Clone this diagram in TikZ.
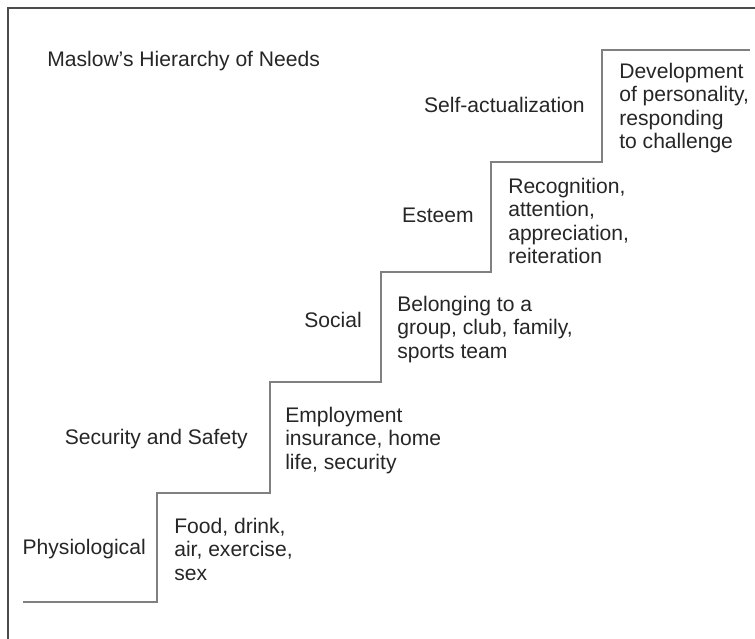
\documentclass[tikz,border=0pt]{standalone}
\usepackage{fontspec}
\setmainfont{Liberation Sans}
\begin{document}
\begin{tikzpicture}[
    need/.style={anchor=base east, inner sep=0pt, text=black!85},
    detail/.style={anchor=north west, inner sep=0pt, align=left, text=black!85},
    font=\fontsize{15}{16.6}\selectfont]
    \useasboundingbox (0,0) rectangle (18.875,15.975);

    % Marco
    \draw[line width=1.3pt, black!70] (0.2,0) -- (0.2,15.775) -- (18.875,15.775);

    % Escalera
    \draw[line width=1.3pt, black!50] (0.575,0.925) -- (3.925,0.925) -- (3.925,3.65)
        -- (6.75,3.65) -- (6.75,6.425) -- (9.525,6.425) -- (9.525,9.175)
        -- (12.275,9.175) -- (12.275,11.925) -- (15.05,11.925) -- (15.05,14.725)
        -- (18.75,14.725);

    % Titulo
    \node[anchor=base west, inner sep=0pt, text=black!85] (title) at (1.175,14.3) {Maslow’s Hierarchy of Needs};

    % Niveles
    \node[need] (phys) at (3.65,2.1) {Physiological};
    \node[need] (safe) at (6.2,4.85) {Security and Safety};
    \node[need] (soc) at (9.05,7.775) {Social};
    \node[need] (est) at (11.85,10.4) {Esteem};
    \node[need] (self) at (14.625,13.15) {Self-actualization};

    % Descripciones
    \node[detail] (physdet) at (4.35,3.025) {Food, drink,\\air, exercise,\\sex};
    \node[detail] (safedet) at (7.125,5.8) {Employment\\insurance, home\\life, security};
    \node[detail] (socdet) at (9.925,8.575) {Belonging to a\\group, club, family,\\sports team};
    \node[detail] (estdet) at (12.7,11.525) {Recognition,\\attention,\\appreciation,\\reiteration};
    \node[detail] (selfdet) at (15.475,14.4) {Development\\of personality,\\responding\\to challenge};
\end{tikzpicture}
\end{document}
